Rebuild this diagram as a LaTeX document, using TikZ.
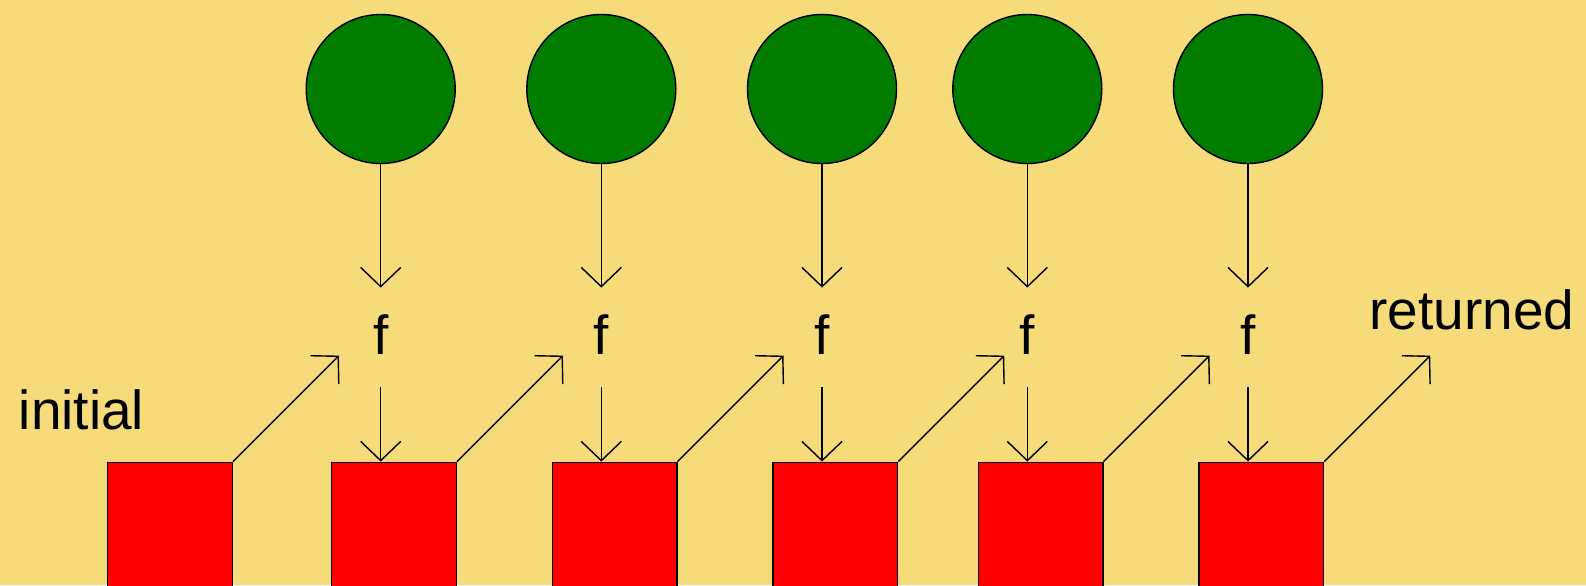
\documentclass[tikz,border=0pt]{standalone}
\usepackage{fontspec}
\setmainfont{Liberation Sans}
\usetikzlibrary{arrows.meta,calc}
\definecolor{paper}{RGB}{245,219,121}
\definecolor{leaf}{RGB}{0,124,0}
\definecolor{boxred}{RGB}{255,0,0}
\tikzset{
  wire/.style={draw=black, line width=0.7pt,
    -{Straight Barb[length=9.6pt,width=20pt,line width=0.7pt]}},
  ball/.style={circle, draw=black, line width=0.7pt, fill=leaf,
    minimum size=74.5pt, inner sep=0pt},
  cell/.style={rectangle, draw=black, line width=0.7pt, fill=boxred,
    minimum width=62.25pt, minimum height=100pt, inner sep=0pt,
    anchor=north west},
  fun/.style={inner sep=0pt, anchor=base, text height=33.25pt, text depth=16.25pt,
    font=\fontsize{27.5pt}{30pt}\selectfont},
  word/.style={inner sep=0pt, anchor=base west,
    font=\fontsize{27.5pt}{30pt}\selectfont}
}
\begin{document}
\begin{tikzpicture}[x=0.5pt,y=-0.5pt]
\useasboundingbox (0,0) rectangle (1586,585);
\clip (0,0) rectangle (1586,585);
\fill[paper] (0,0) rectangle (1586,585);

% the starting value
\node[cell] (b0) at (107,461.6) {};
\node[word] (init) at (18.5,429) {initial};
\coordinate (t0) at ($(b0.north east)+(106,-106)$);
\draw[wire] (b0.north east) -- (t0);

% one column per step: element, f, accumulated value
\foreach \i/\x in {1/380.7, 2/601.3, 3/822, 4/1027.3, 5/1248} {
  \node[ball] (c\i) at (\x,89) {};
  \node[fun] (f\i) at (\x,354.5) {f};
  \node[cell] (b\i) at (\x-49.7,461.6) {};
  \draw[wire] (c\i) -- (f\i);
  \draw[wire] (f\i.south) -- (f\i.south |- b\i.north);
  \coordinate (t\i) at ($(b\i.north east)+(106,-106)$);
  \draw[wire] (b\i.north east) -- (t\i);
}

\node[word] (ret) at (1369,329.3) {returned};
\end{tikzpicture}
\end{document}
